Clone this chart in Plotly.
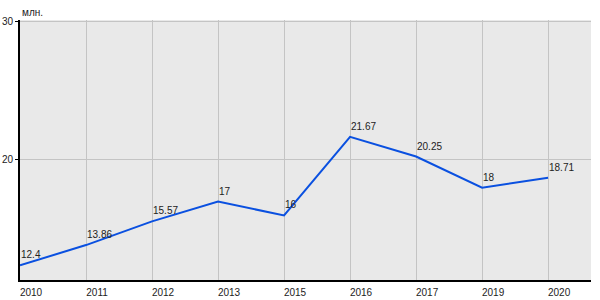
import plotly.graph_objects as go

years = ["2010", "2011", "2012", "2013", "2015", "2016", "2017", "2019", "2020"]
values = [12.4, 13.86, 15.57, 17, 16, 21.67, 20.25, 18, 18.71]
labels = ["12.4", "13.86", "15.57", "17", "16", "21.67", "20.25", "18", "18.71"]
y_ticks = [20, 30]
unit = "млн."

FONT = "Liberation Sans, Arial"

fig = go.Figure()
fig.add_trace(go.Scatter(
    x=years, y=values, mode="lines",
    line=dict(color="#0a50e0", width=2),
    cliponaxis=False,
))
annos = [dict(text=unit, xref="paper", yref="paper", x=0, y=1,
              xanchor="left", yanchor="bottom", showarrow=False,
              font=dict(family=FONT, size=10, color="#222"), yshift=0)]
for i, (v, t) in enumerate(zip(values, labels)):
    annos.append(dict(x=i, y=v, text=t, xref="x", yref="y",
                      xanchor="left", yanchor="bottom", showarrow=False,
                      xshift=-1, yshift=3,
                      font=dict(family=FONT, size=10, color="#222")))
fig.update_layout(
    width=600, height=300,
    margin=dict(l=20, r=9, t=20, b=20),
    paper_bgcolor="white", plot_bgcolor="#e9e9e9",
    showlegend=False,
    font=dict(family=FONT, size=10, color="#222"),
    annotations=annos,
)
fig.update_xaxes(type="category", range=[0, 8.65], showgrid=True,
                 gridcolor="#c4c4c4", gridwidth=1, automargin=False,
                 showline=True, linecolor="black", linewidth=2,
                 ticks="", ticklabelshift=11, ticklabelstandoff=2,
                 tickfont=dict(family=FONT, size=10, color="#222"))
fig.update_yaxes(range=[11.34, 30.1], tickvals=y_ticks, showgrid=True,
                 gridcolor="#c4c4c4", gridwidth=1, automargin=False,
                 showline=True, linecolor="black", linewidth=2,
                 ticks="outside", ticklen=3, tickcolor="black",
                 tickfont=dict(family=FONT, size=10, color="#222"), zeroline=False)
fig.write_html("out.html")
